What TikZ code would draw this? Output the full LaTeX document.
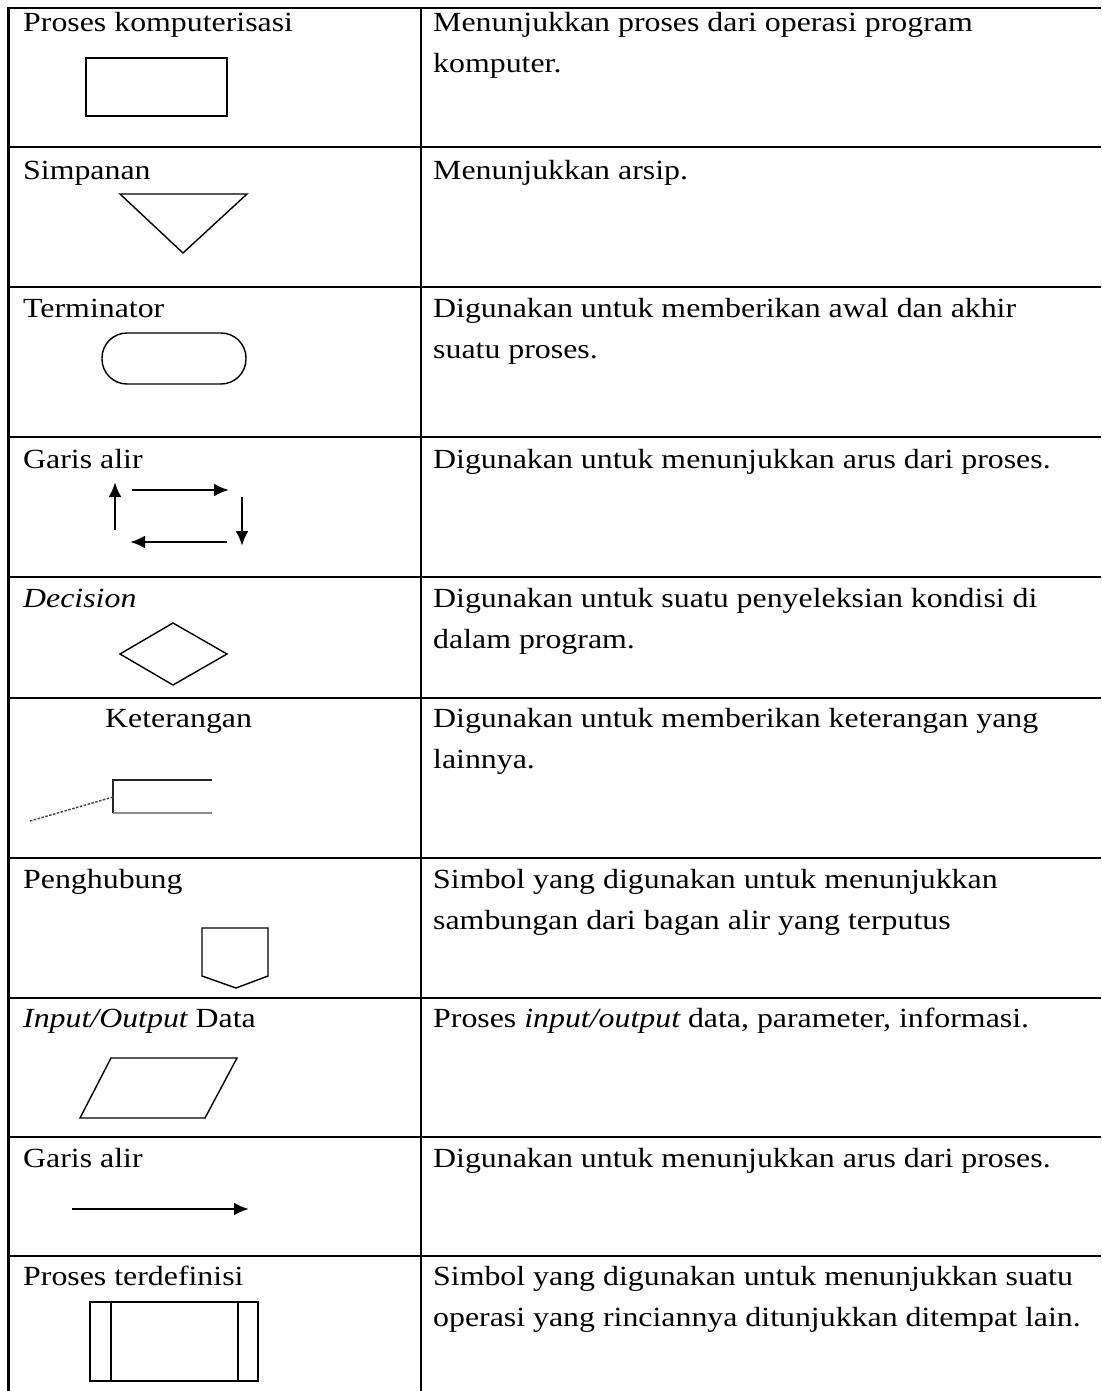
\documentclass[tikz,border=0pt]{standalone}
\usepackage{fontspec}
\setmainfont{Liberation Serif}
\newfontfamily\lfont{Liberation Serif}[FakeStretch=1.15]
\newfontfamily\rfont{Liberation Serif}[FakeStretch=1.15]
\usetikzlibrary{arrows.meta}
\begin{document}
\begin{tikzpicture}[x=1pt,y=-1pt,
  gridline/.style={line width=2.8pt,black},
  symb/.style={line width=1.4pt,black},
  flow/.style={line width=2.8pt,-{Latex[length=15pt,width=13pt]}},
  ltext/.style={anchor=base west,inner sep=0pt,font=\lfont\fontsize{27.7}{33}\selectfont},
  rtext/.style={anchor=base west,inner sep=0pt,font=\rfont\fontsize{27.7}{33}\selectfont}]
\useasboundingbox (0,0) rectangle (1101,1391);
\fill[white] (0,0) rectangle (1101,1391);

% table grid
\draw[gridline] (8.5,8) -- (8.5,1391);
\draw[gridline] (421,8) -- (421,1391);
\foreach \yy in {8,147,287,437,577,698,858,998,1137,1256}
  \draw[gridline] (7.1,\yy) -- (1101,\yy);

% left column labels
\node[ltext] (l1) at (23,32) {Proses komputerisasi};
\node[ltext] (l2) at (23,180) {Simpanan};
\node[ltext] (l3) at (23,317) {Terminator};
\node[ltext] (l4) at (23,468) {Garis alir};
\node[ltext] (l5) at (23,607) {\itshape Decision};
\node[ltext] (l6) at (105,727) {Keterangan};
\node[ltext] (l7) at (23,888) {Penghubung};
\node[ltext] (l8) at (23,1027) {\itshape Input/Output\upshape{} Data};
\node[ltext] (l9) at (23,1167) {Garis alir};
\node[ltext] (l10) at (23,1285) {Proses terdefinisi};

% right column descriptions
\node[rtext] (r1a) at (433,32) {Menunjukkan proses dari operasi program};
\node[rtext] (r1b) at (433,73) {komputer.};
\node[rtext] (r2) at (433,180) {Menunjukkan arsip.};
\node[rtext] (r3a) at (433,317) {Digunakan untuk memberikan awal dan akhir};
\node[rtext] (r3b) at (433,358) {suatu proses.};
\node[rtext] (r4) at (433,468) {Digunakan untuk menunjukkan arus dari proses.};
\node[rtext] (r5a) at (433,607) {Digunakan untuk suatu penyeleksian kondisi di};
\node[rtext] (r5b) at (433,648) {dalam program.};
\node[rtext] (r6a) at (433,727) {Digunakan untuk memberikan keterangan yang};
\node[rtext] (r6b) at (433,768) {lainnya.};
\node[rtext] (r7a) at (433,888) {Simbol yang digunakan untuk menunjukkan};
\node[rtext] (r7b) at (433,929) {sambungan dari bagan alir yang terputus};
\node[rtext] (r8) at (433,1027) {Proses \itshape input/output\upshape{} data, parameter, informasi.};
\node[rtext] (r9) at (433,1167) {Digunakan untuk menunjukkan arus dari proses.};
\node[rtext] (r10a) at (433,1285) {Simbol yang digunakan untuk menunjukkan suatu};
\node[rtext] (r10b) at (433,1326) {operasi yang rinciannya ditunjukkan ditempat lain.};

% symbols
% 1 process
\draw[symb] (86,58) rectangle (227,116);
% 2 storage
\draw[symb] (120,194) -- (247,194) -- (183,253) -- cycle;
% 3 terminator
\draw[symb,rounded corners=25pt] (102,333) rectangle (246,384);
% 4 flow lines
\coordinate (ua) at (115,530); \coordinate (ub) at (115,482);
\coordinate (ra) at (132,490); \coordinate (rb) at (229,490);
\coordinate (da) at (242,497); \coordinate (db) at (242,546);
\coordinate (la) at (227,542); \coordinate (lb) at (130,542);
\draw[flow] (ua) -- (ub);
\draw[flow] (ra) -- (rb);
\draw[flow] (da) -- (db);
\draw[flow] (la) -- (lb);
% 5 decision
\draw[symb] (120,654) -- (173,623) -- (227,654) -- (173,685) -- cycle;
% 6 annotation
\draw[line width=1.4pt,black!85] (212,780) -- (113,780) -- (113,813);
\draw[line width=1.2pt,black!45] (113,813) -- (212,813);
\coordinate (ka) at (113,797); \coordinate (kb) at (30,821);
\draw[line width=1.4pt,black!75,dash pattern=on 2.5pt off 1.5pt] (ka) -- (kb);
% 7 connector
\draw[symb] (202,928) -- (268,928) -- (268,976) -- (236,988) -- (202,976) -- cycle;
% 8 input/output
\draw[symb] (111,1058) -- (237,1058) -- (205,1118) -- (80,1118) -- cycle;
% 9 flow line
\coordinate (fa) at (72,1209); \coordinate (fb) at (249,1209);
\draw[flow] (fa) -- (fb);
% 10 predefined process
\draw[symb] (90,1302) rectangle (258,1381);
\draw[symb] (111,1302) -- (111,1381);
\draw[symb] (238,1302) -- (238,1381);
\end{tikzpicture}
\end{document}
